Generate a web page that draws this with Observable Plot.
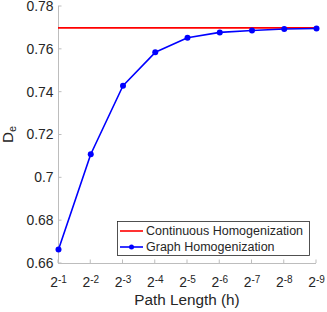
<!DOCTYPE html>
<html><head><meta charset="utf-8">
<script src="https://cdn.jsdelivr.net/npm/d3@7"></script>
<script src="https://cdn.jsdelivr.net/npm/@observablehq/plot@0.6"></script>
<style>body{margin:0;background:#fff}svg{display:block}</style>
</head><body><div id="c"></div>
<script>
const pathExp = [1, 2, 3, 4, 5, 6, 7, 8, 9];
const graphDe = [0.6665, 0.711, 0.743, 0.7586, 0.7654, 0.7679, 0.7688, 0.7695, 0.7697];
const continuousDe = 0.77;
const yTicks = [0.66, 0.68, 0.70, 0.72, 0.74, 0.76, 0.78];
const yTickLabels = ["0.66", "0.68", "0.7", "0.72", "0.74", "0.76", "0.78"];
const legendLabels = ["Continuous Homogenization", "Graph Homogenization"];

const graphData = pathExp.map((e, i) => ({e, v: graphDe[i]}));
const axisColor = "#bdbdbd", textColor = "#262626";
const font = "Liberation Sans, Arial, sans-serif";

const chart = Plot.plot({
  width: 327, height: 312,
  marginLeft: 58, marginRight: 11, marginTop: 6, marginBottom: 49,
  style: {fontFamily: font, fontSize: "13.9px", color: textColor, background: "#fff", overflow: "visible"},
  x: {type: "linear", domain: [1, 9]},
  y: {domain: [0.66, 0.78]},
  marks: [
    Plot.axisX({ticks: pathExp, tickFormat: d => "-" + d, tickSize: 0, tickPadding: 14, fill: textColor, label: null}),
    Plot.axisY({ticks: yTicks, tickFormat: (d, i) => yTickLabels[i], tickSize: 0, tickPadding: 5, fill: textColor, label: null}),
    Plot.ruleX([1], {stroke: axisColor, strokeWidth: 1}),
    Plot.ruleY([0.66], {stroke: axisColor, strokeWidth: 1}),
    Plot.ruleY([continuousDe], {stroke: "#ff0000", strokeWidth: 1.6}),
    Plot.line(graphData, {x: "e", y: "v", stroke: "#0000ff", strokeWidth: 1.6}),
    Plot.dot(graphData, {x: "e", y: "v", fill: "#0000ff", r: 3})
  ]
});
document.getElementById("c").appendChild(chart);

const svg = d3.select(chart);
const xs = chart.scale("x"), ys = chart.scale("y");
const x0 = xs.apply(1), x1 = xs.apply(9), yb = ys.apply(0.66), yt = ys.apply(0.78);

// inward tick marks
const tg = svg.append("g").attr("stroke", axisColor);
pathExp.forEach(e => tg.append("line").attr("x1", xs.apply(e)).attr("x2", xs.apply(e)).attr("y1", yb).attr("y2", yb - 3.5));
yTicks.forEach(t => tg.append("line").attr("x1", x0).attr("x2", x0 + 3.5).attr("y1", ys.apply(t)).attr("y2", ys.apply(t)));

// superscripts for x tick labels
svg.selectAll('g[aria-label="x-axis tick label"] text').each(function() {
  const t = d3.select(this);
  const exp = t.text();
  t.text("");
  t.append("tspan").text("2");
  t.append("tspan").attr("dy", "-0.45em").attr("font-size", "10px").text(exp);
});

// axis labels
svg.append("text").attr("x", (x0 + x1) / 2).attr("y", 305).attr("text-anchor", "middle")
  .attr("font-size", "15.3px").attr("fill", textColor).text("Path Length (h)");
const yl = svg.append("text").attr("transform", `translate(13,${(yb + yt) / 2}) rotate(-90)`)
  .attr("text-anchor", "middle").attr("font-size", "15.3px").attr("fill", textColor);
yl.append("tspan").text("D");
yl.append("tspan").attr("dy", "0.3em").attr("font-size", "11px").text("e");

// legend
const lg = svg.append("g").attr("font-size", "12.5px").attr("fill", textColor).attr("text-anchor", "start");
lg.append("rect").attr("x", 117.5).attr("y", 221.5).attr("width", 192).attr("height", 34)
  .attr("fill", "#fff").attr("stroke", "#262626").attr("stroke-width", 0.8);
const colors = ["#ff0000", "#0000ff"];
legendLabels.forEach((lab, i) => {
  const cy = 231 + i * 16;
  lg.append("line").attr("x1", 120).attr("x2", 143).attr("y1", cy).attr("y2", cy)
    .attr("stroke", colors[i]).attr("stroke-width", 1.6);
  if (i === 1) lg.append("circle").attr("cx", 131.5).attr("cy", cy).attr("r", 2.5).attr("fill", colors[i]);
  lg.append("text").attr("x", 146).attr("y", cy).attr("dy", "0.35em").text(lab);
});
</script></body></html>
